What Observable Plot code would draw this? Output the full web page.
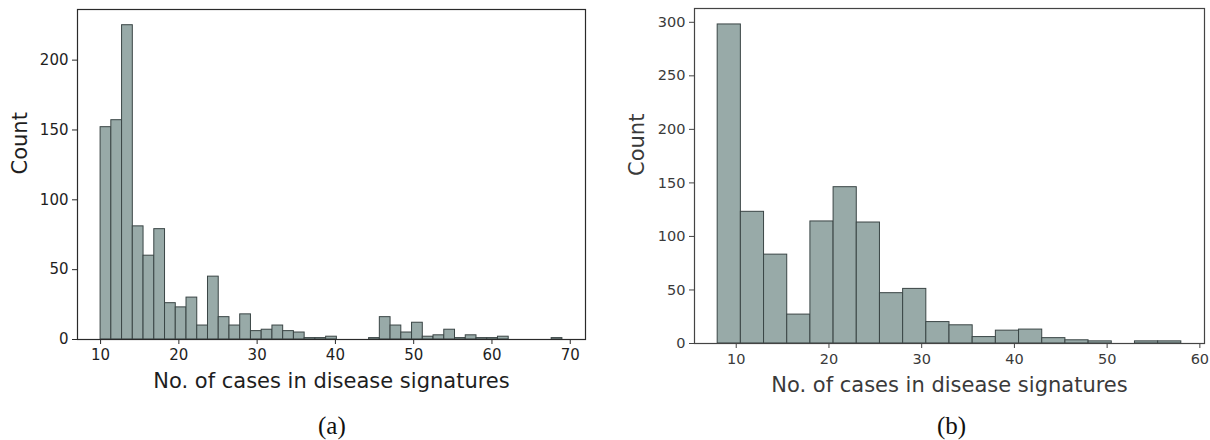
<!DOCTYPE html>
<html>
<head>
<meta charset="utf-8">
<script src="https://cdn.jsdelivr.net/npm/d3@7"></script>
<script src="https://cdn.jsdelivr.net/npm/@observablehq/plot@0.6"></script>
<style>
  html, body { margin: 0; padding: 0; background: #fff; }
  #wrap { display: flex; width: 1210px; height: 440px; }
  .panel { width: 605px; height: 440px; position: relative; }
  .cap { position: absolute; left: 0; width: 605px; top: 406px; height: 40px;
         font-family: "Liberation Serif", "Times New Roman", serif; font-size: 25px;
         line-height: 40px; text-align: left; color: #111; }
</style>
</head>
<body>
<div id="wrap">
  <div class="panel" id="pa"></div>
  <div class="panel" id="pb"></div>
</div>
<script>
// ---- Panel (a) data ----
const binsA_lo = 10;
const binsA_hi = 69;
const countsA = [152,157,225,81,60,79,26,23,30,10,45,16,10,18,6,7,10,6,5,1,1,2,0,0,0,1,16,10,5,12,2,3,7,1,3,1,1,2,0,0,0,0,1];
const xTicksA = [10,20,30,40,50,60,70];
const yTicksA = [0,50,100,150,200];

// ---- Panel (b) data ----
const binsB_lo = 8;
const binsB_hi = 58;
const countsB = [298,123,83,27,114,146,113,47,51,20,17,6,12,13,5,3,2,0,2,2];
const xTicksB = [10,20,30,40,50,60];
const yTicksB = [0,50,100,150,200,250,300];

const xLabel = "No. of cases in disease signatures";
const yLabel = "Count";
const captions = ["(a)", "(b)"];

function toBins(lo, hi, counts) {
  const w = (hi - lo) / counts.length;
  return counts.map((c, i) => ({x1: lo + i * w, x2: lo + (i + 1) * w, count: c}));
}

function hist(opts) {
  const {lo, hi, counts, xTicks, yTicks, marginLeft, marginRight, marginTop, marginBottom, textColor, frameColor, tickFont} = opts;
  const data = toBins(lo, hi, counts);
  const pad = 0.05 * (hi - lo);
  const ymax = d3.max(counts) * 1.05;
  return Plot.plot({
    width: 605,
    height: 400,
    marginLeft, marginRight, marginTop, marginBottom,
    style: {fontFamily: "DejaVu Sans, sans-serif", fontSize: tickFont, color: textColor, background: "transparent", overflow: "visible"},
    x: {domain: [lo - pad, hi + pad]},
    y: {domain: [0, ymax]},
    marks: [
      Plot.rectY(data, {x1: "x1", x2: "x2", y: "count", fill: "#98aaa8", stroke: "#3a4545", strokeWidth: 1, insetLeft: 0, insetRight: 0}),
      Plot.axisX({ticks: xTicks, tickSize: 5, tickPadding: 5, label: null, stroke: frameColor}),
      Plot.axisY({ticks: yTicks, tickSize: 5, tickPadding: 4, label: null, stroke: frameColor}),
      Plot.frame({stroke: frameColor, strokeWidth: 1.2}),
      Plot.text([xLabel], {frameAnchor: "bottom", dy: 42, fontSize: 21, fill: textColor, lineAnchor: "middle"}),
      Plot.text([yLabel], {frameAnchor: "left", dx: -57, rotate: -90, fontSize: 21, fill: textColor, lineAnchor: "middle"})
    ]
  });
}

const pa = document.getElementById("pa");
pa.appendChild(hist({lo: binsA_lo, hi: binsA_hi, counts: countsA, xTicks: xTicksA, yTicks: yTicksA,
  marginLeft: 77, marginRight: 20, marginTop: 9, marginBottom: 61, textColor: "#1e1e1e", frameColor: "#2a2a2a", tickFont: "15px"}));
const capA = document.createElement("div");
capA.className = "cap"; capA.textContent = captions[0];
capA.style.paddingLeft = "318px";
pa.appendChild(capA);

const pb = document.getElementById("pb");
pb.appendChild(hist({lo: binsB_lo, hi: binsB_hi, counts: countsB, xTicks: xTicksB, yTicks: yTicksB,
  marginLeft: 89, marginRight: 6, marginTop: 8, marginBottom: 57, textColor: "#3a3a3a", frameColor: "#444", tickFont: "14.5px"}));
const capB = document.createElement("div");
capB.className = "cap"; capB.textContent = captions[1];
capB.style.paddingLeft = "332px";
pb.appendChild(capB);
</script>
</body>
</html>
